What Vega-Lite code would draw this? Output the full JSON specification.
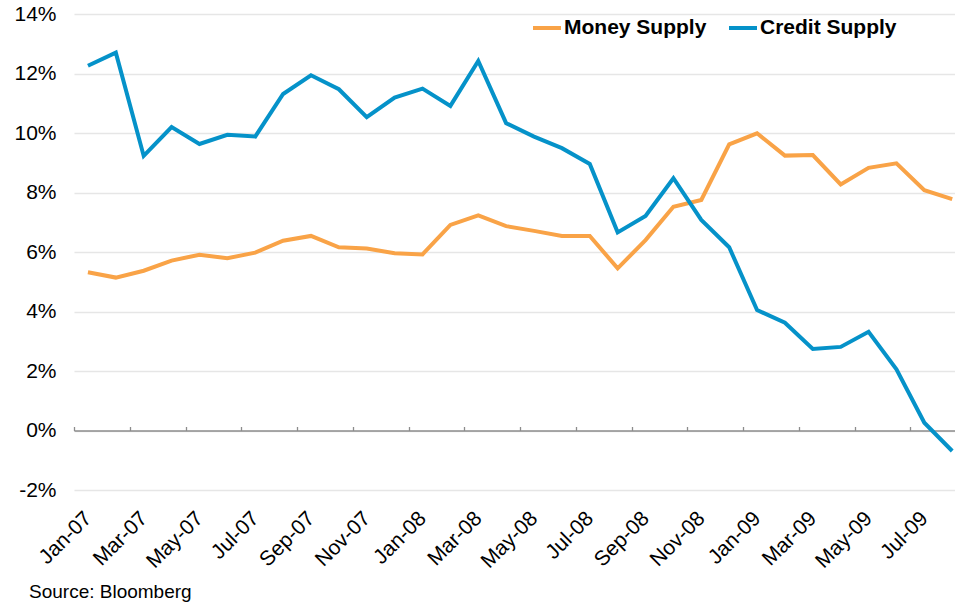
{
  "$schema": "https://vega.github.io/schema/vega-lite/v6.json",
  "autosize": {"type": "none"},
  "padding": {"left": 74, "top": 14, "right": 0, "bottom": 114},
  "width": 881,
  "height": 476,
  "background": "white",
  "config": {
    "view": {"stroke": null},
    "font": "Liberation Sans",
    "axis": {"labelFont": "Liberation Sans", "labelColor": "#000000"}
  },
  "title": {
    "text": "Source: Bloomberg",
    "orient": "bottom",
    "anchor": "start",
    "frame": "group",
    "font": "Liberation Sans",
    "fontSize": 19,
    "fontWeight": "normal",
    "color": "#000000",
    "dx": -45,
    "offset": 11
  },
  "data": {
    "values": [
      {"i": 0, "month": "Jan-07", "series": "Money Supply", "value": 5.32},
      {"i": 1, "month": "Feb-07", "series": "Money Supply", "value": 5.14},
      {"i": 2, "month": "Mar-07", "series": "Money Supply", "value": 5.37},
      {"i": 3, "month": "Apr-07", "series": "Money Supply", "value": 5.71},
      {"i": 4, "month": "May-07", "series": "Money Supply", "value": 5.91},
      {"i": 5, "month": "Jun-07", "series": "Money Supply", "value": 5.79},
      {"i": 6, "month": "Jul-07", "series": "Money Supply", "value": 5.98},
      {"i": 7, "month": "Aug-07", "series": "Money Supply", "value": 6.38},
      {"i": 8, "month": "Sep-07", "series": "Money Supply", "value": 6.54},
      {"i": 9, "month": "Oct-07", "series": "Money Supply", "value": 6.16},
      {"i": 10, "month": "Nov-07", "series": "Money Supply", "value": 6.12},
      {"i": 11, "month": "Dec-07", "series": "Money Supply", "value": 5.96},
      {"i": 12, "month": "Jan-08", "series": "Money Supply", "value": 5.92},
      {"i": 13, "month": "Feb-08", "series": "Money Supply", "value": 6.91},
      {"i": 14, "month": "Mar-08", "series": "Money Supply", "value": 7.23},
      {"i": 15, "month": "Apr-08", "series": "Money Supply", "value": 6.87},
      {"i": 16, "month": "May-08", "series": "Money Supply", "value": 6.71},
      {"i": 17, "month": "Jun-08", "series": "Money Supply", "value": 6.54},
      {"i": 18, "month": "Jul-08", "series": "Money Supply", "value": 6.54},
      {"i": 19, "month": "Aug-08", "series": "Money Supply", "value": 5.45},
      {"i": 20, "month": "Sep-08", "series": "Money Supply", "value": 6.40},
      {"i": 21, "month": "Oct-08", "series": "Money Supply", "value": 7.52},
      {"i": 22, "month": "Nov-08", "series": "Money Supply", "value": 7.75},
      {"i": 23, "month": "Dec-08", "series": "Money Supply", "value": 9.62},
      {"i": 24, "month": "Jan-09", "series": "Money Supply", "value": 9.99},
      {"i": 25, "month": "Feb-09", "series": "Money Supply", "value": 9.24},
      {"i": 26, "month": "Mar-09", "series": "Money Supply", "value": 9.26},
      {"i": 27, "month": "Apr-09", "series": "Money Supply", "value": 8.27},
      {"i": 28, "month": "May-09", "series": "Money Supply", "value": 8.83},
      {"i": 29, "month": "Jun-09", "series": "Money Supply", "value": 8.98},
      {"i": 30, "month": "Jul-09", "series": "Money Supply", "value": 8.08},
      {"i": 31, "month": "Aug-09", "series": "Money Supply", "value": 7.78},
      {"i": 0, "month": "Jan-07", "series": "Credit Supply", "value": 12.26},
      {"i": 1, "month": "Feb-07", "series": "Credit Supply", "value": 12.70},
      {"i": 2, "month": "Mar-07", "series": "Credit Supply", "value": 9.23},
      {"i": 3, "month": "Apr-07", "series": "Credit Supply", "value": 10.20},
      {"i": 4, "month": "May-07", "series": "Credit Supply", "value": 9.63},
      {"i": 5, "month": "Jun-07", "series": "Credit Supply", "value": 9.94},
      {"i": 6, "month": "Jul-07", "series": "Credit Supply", "value": 9.88},
      {"i": 7, "month": "Aug-07", "series": "Credit Supply", "value": 11.31},
      {"i": 8, "month": "Sep-07", "series": "Credit Supply", "value": 11.94},
      {"i": 9, "month": "Oct-07", "series": "Credit Supply", "value": 11.47},
      {"i": 10, "month": "Nov-07", "series": "Credit Supply", "value": 10.53},
      {"i": 11, "month": "Dec-07", "series": "Credit Supply", "value": 11.19},
      {"i": 12, "month": "Jan-08", "series": "Credit Supply", "value": 11.49},
      {"i": 13, "month": "Feb-08", "series": "Credit Supply", "value": 10.91},
      {"i": 14, "month": "Mar-08", "series": "Credit Supply", "value": 12.42},
      {"i": 15, "month": "Apr-08", "series": "Credit Supply", "value": 10.33},
      {"i": 16, "month": "May-08", "series": "Credit Supply", "value": 9.88},
      {"i": 17, "month": "Jun-08", "series": "Credit Supply", "value": 9.49},
      {"i": 18, "month": "Jul-08", "series": "Credit Supply", "value": 8.96},
      {"i": 19, "month": "Aug-08", "series": "Credit Supply", "value": 6.66},
      {"i": 20, "month": "Sep-08", "series": "Credit Supply", "value": 7.21},
      {"i": 21, "month": "Oct-08", "series": "Credit Supply", "value": 8.48},
      {"i": 22, "month": "Nov-08", "series": "Credit Supply", "value": 7.08},
      {"i": 23, "month": "Dec-08", "series": "Credit Supply", "value": 6.16},
      {"i": 24, "month": "Jan-09", "series": "Credit Supply", "value": 4.05},
      {"i": 25, "month": "Feb-09", "series": "Credit Supply", "value": 3.62},
      {"i": 26, "month": "Mar-09", "series": "Credit Supply", "value": 2.74},
      {"i": 27, "month": "Apr-09", "series": "Credit Supply", "value": 2.81},
      {"i": 28, "month": "May-09", "series": "Credit Supply", "value": 3.32},
      {"i": 29, "month": "Jun-09", "series": "Credit Supply", "value": 2.06},
      {"i": 30, "month": "Jul-09", "series": "Credit Supply", "value": 0.26},
      {"i": 31, "month": "Aug-09", "series": "Credit Supply", "value": -0.69}
    ]
  },
  "resolve": {"axis": {"x": "independent"}},
  "layer": [
    {
      "mark": {"type": "line", "strokeWidth": 4, "strokeJoin": "miter", "clip": false},
      "encoding": {
        "x": {
          "field": "i",
          "type": "quantitative",
          "scale": {"domain": [-0.5, 31.1], "nice": false, "zero": false},
          "axis": {
            "orient": "bottom",
            "title": null,
            "values": [0, 2, 4, 6, 8, 10, 12, 14, 16, 18, 20, 22, 24, 26, 28, 30],
            "labelExpr": "['Jan','Feb','Mar','Apr','May','Jun','Jul','Aug','Sep','Oct','Nov','Dec'][datum.value % 12] + '-0' + (7 + floor(datum.value / 12))",
            "labelAngle": -45,
            "labelAlign": "right",
            "labelBaseline": "middle",
            "labelFontSize": 21,
            "labelPadding": 25,
            "labelOverlap": false,
            "labelBound": false,
            "labelFlush": false,
            "domain": false,
            "ticks": false,
            "grid": false
          }
        },
        "y": {
          "field": "value",
          "type": "quantitative",
          "scale": {"domain": [-2, 14], "nice": false},
          "axis": {
            "title": null,
            "values": [-2, 0, 2, 4, 6, 8, 10, 12, 14],
            "labelExpr": "datum.value + '%'",
            "labelFontSize": 21,
            "labelPadding": 18,
            "domain": false,
            "ticks": false,
            "grid": true,
            "gridColor": "#E6E6E6",
            "gridWidth": 1.3
          }
        },
        "color": {
          "field": "series",
          "type": "nominal",
          "scale": {"domain": ["Money Supply", "Credit Supply"], "range": ["#F9A347", "#0592C9"]},
          "legend": {
            "title": null,
            "orient": "none",
            "legendX": 457,
            "legendY": -2,
            "direction": "horizontal",
            "symbolType": "stroke",
            "symbolSize": 784,
            "symbolStrokeWidth": 4,
            "labelFontSize": 21,
            "labelFontWeight": "bold",
            "labelFont": "Liberation Sans",
            "labelColor": "#000000",
            "labelOffset": 1,
            "columnPadding": 14,
            "labelLimit": 300
          }
        }
      }
    },
    {
      "mark": {"type": "line", "opacity": 0},
      "encoding": {
        "x": {
          "field": "i",
          "type": "quantitative",
          "axis": {
            "orient": "top",
            "title": null,
            "offset": -416.5,
            "values": [-0.5, 1.5, 3.5, 5.5, 7.5, 9.5, 11.5, 13.5, 15.5, 17.5, 19.5, 21.5, 23.5, 25.5, 27.5, 29.5],
            "labels": false,
            "grid": false,
            "domain": true,
            "domainColor": "#8C8C8C",
            "domainWidth": 1.5,
            "ticks": true,
            "tickColor": "#8C8C8C",
            "tickWidth": 1.3,
            "tickSize": 4
          }
        },
        "y": {"field": "value", "type": "quantitative"},
        "detail": {"field": "series"}
      }
    }
  ]
}
